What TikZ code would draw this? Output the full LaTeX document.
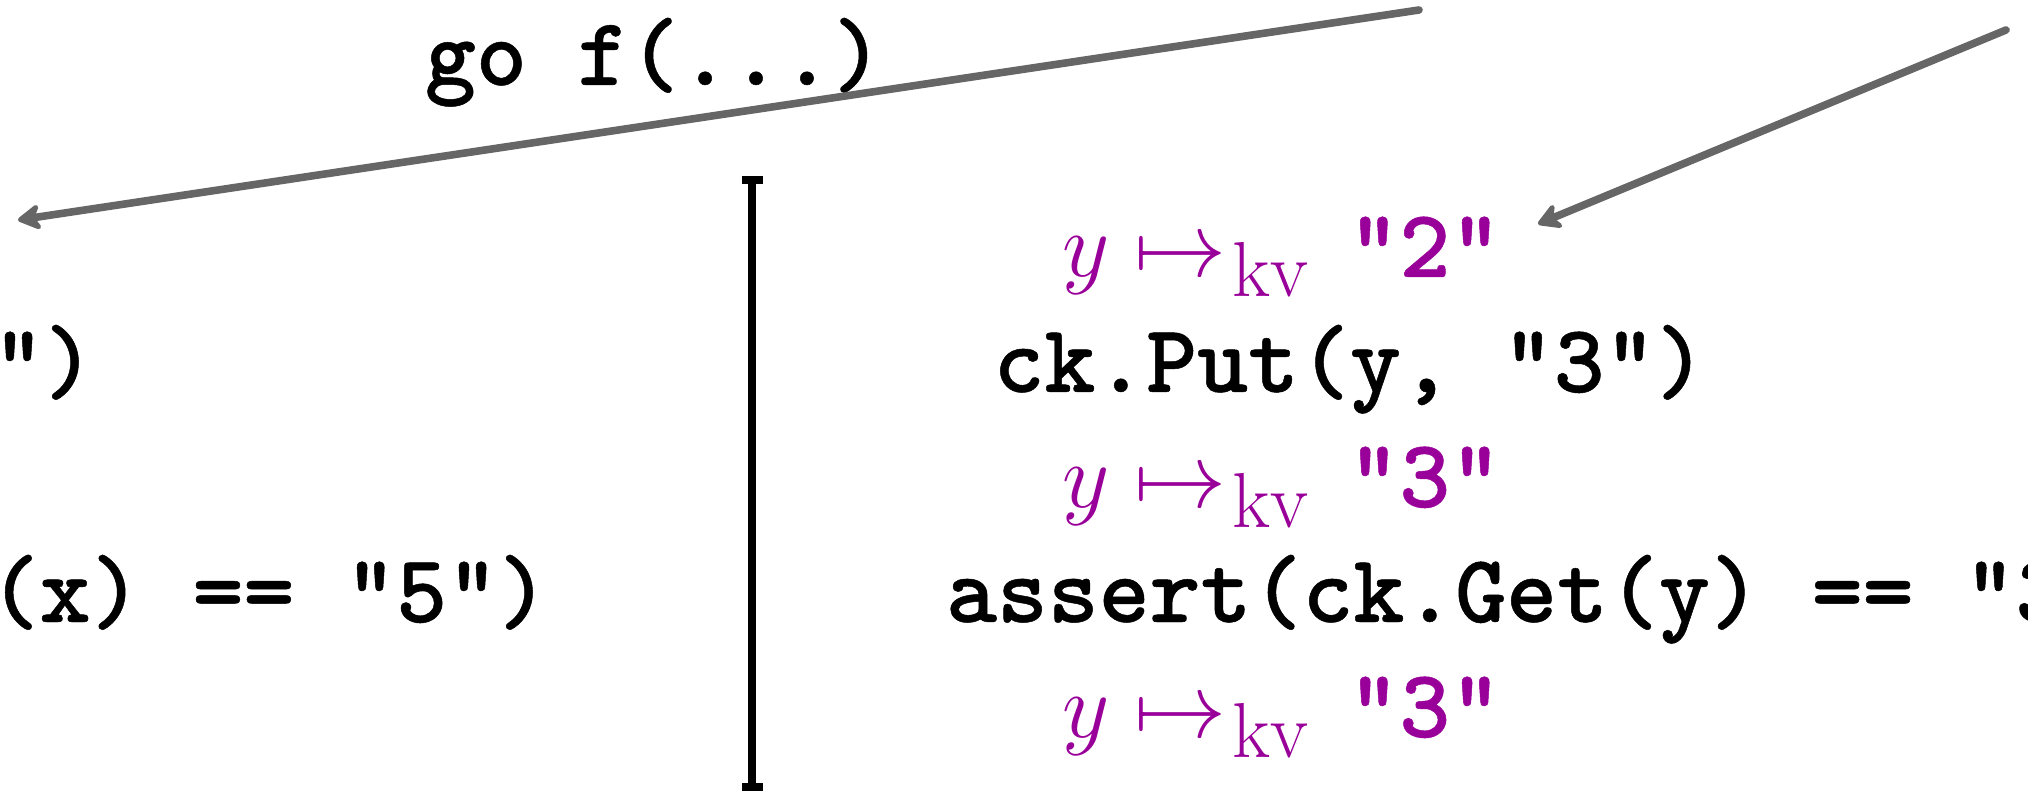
\RequirePackage{fix-cm}
\documentclass[tikz,border=0pt]{standalone}
\usepackage{fontspec}
\newfontfamily\codefont{lmmonolt10-bold.otf}[FakeBold=0.5]
\usetikzlibrary{arrows.meta}
\definecolor{kvpurple}{RGB}{153,0,153}
\definecolor{arrowgray}{RGB}{102,102,102}
\newcommand{\kvmap}[1]{{\fontsize{46}{52}\selectfont$y\mapsto$}\kern3pt\raisebox{-10pt}{\fontsize{39}{39}\selectfont kv}\kern20pt{\fontsize{48.5}{58}\selectfont\codefont"#1"}}
\tikzset{
  code/.style={inner sep=0pt, outer sep=0pt, font=\fontsize{48.5}{58}\selectfont\codefont},
  kvline/.style={inner sep=0pt, outer sep=0pt, text=kvpurple},
  ptr/.style={draw=arrowgray, line width=3.8pt, line cap=round, -{Stealth[length=14pt,width=16pt,inset=4.5pt,round]}},
  timeline/.style={draw=black, line width=4pt, {Bar[width=10.5pt]}-{Bar[width=10.5pt]}},
}
\begin{document}
\begin{tikzpicture}[x=0.5pt,y=-0.5pt]
\useasboundingbox (0,0) rectangle (2028,807);
\clip (0,0) rectangle (2028,807);
% texts
\node[code, anchor=base west] (go) at (425,85) {go f(...)};
\node[code, anchor=base east] (l1) at (95,392) {")};
\node[code, anchor=base east] (l2) at (549,622) {(x) == "5")};
\node[kvline, anchor=base west] (k1) at (1062,277) {\kvmap{2}};
\node[code, anchor=base] (put) at (1350,392) {ck.Put(y, "3")};
\node[kvline, anchor=base west] (k2) at (1062,507) {\kvmap{3}};
\node[code, anchor=base west] (get) at (946,622) {assert(ck.Get(y) == "3")};
\node[kvline, anchor=base west] (k3) at (1062,737) {\kvmap{3}};
% timeline bar
\coordinate (bt) at (752,176);
\coordinate (bb) at (752,791);
\draw[timeline] (bt) -- (bb);
% arrows
\coordinate (a1s) at (1419,10);
\coordinate (a1e) at (18,220);
\coordinate (a2s) at (2006,30);
\coordinate (a2e) at (1538,224);
\draw[ptr] (a1s) -- (a1e);
\draw[ptr] (a2s) -- (a2e);
\end{tikzpicture}
\end{document}
